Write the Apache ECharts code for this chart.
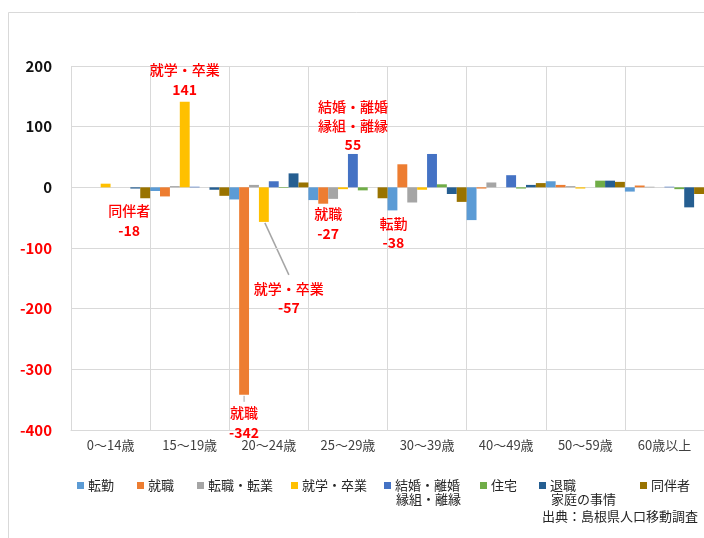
<!DOCTYPE html>
<html><head><meta charset="utf-8">
<script src="https://cdn.jsdelivr.net/npm/echarts@6/dist/echarts.min.js"></script>
<style>html,body{margin:0;padding:0;background:#fff}#c{width:704px;height:538px}</style>
</head><body><div id="c"></div>
<script>
const categories = ['0～14歳','15～19歳','20～24歳','25～29歳','30～39歳','40～49歳','50～59歳','60歳以上'];
const seriesNames = ['転勤','就職','転職・転業','就学・卒業','結婚・離婚','住宅','退職','同伴者'];
const tenkin   = [0, -6, -20, -21, -38, -54, 10, -7];
const shushoku = [0, -15, -342, -27, 38, -2, 4, 3];
const tenshoku = [0, 2, 4, -19, -25, 8, 2, 1];
const shugaku  = [6, 141, -57, -3, -4, 0, -2, 0];
const kekkon   = [0, 1, 10, 55, 55, 20, 0, 1];
const jutaku   = [0, 0, -1, -5, 5, -2, 11, -3];
const taishoku = [-2, -4, 23, 0, -11, 4, 11, -33];
const dohan    = [-18, -14, 8, -18, -24, 7, 9, -11];
const allValues = [tenkin, shushoku, tenshoku, shugaku, kekkon, jutaku, taishoku, dohan];
const colors = ['#5B9BD5','#ED7D31','#A5A5A5','#FFC000','#4472C4','#70AD47','#255E91','#997300'];
const legendSecondLines = {4:'縁組・離縁', 6:'家庭の事情'};
const sourceText = '出典：島根県人口移動調査';

// annotation labels (series index, category index, title)
const notes = [
  {s:3, c:1, title:'就学・卒業', pos:'top', dist:2, off:[0,0], lh:20},
  {s:7, c:0, title:'同伴者', pos:'bottom', dist:2, off:[-16,0], lh:20},
  {s:1, c:2, title:'就職', pos:'bottom', dist:8, off:[0,0], lh:20},
  {s:3, c:2, title:'就学・卒業', pos:'bottom', dist:57, off:[25,0], lh:19},
  {s:4, c:3, title:'結婚・離婚\n縁組・離縁', pos:'top', dist:0, off:[0,0], lh:19},
  {s:1, c:3, title:'就職', pos:'bottom', dist:0, off:[5,0], lh:20},
  {s:0, c:4, title:'転勤', pos:'bottom', dist:4, off:[1,0], lh:19}
];

const FF = '"Noto Sans CJK JP", "Noto Sans", sans-serif';
const chart = echarts.init(document.getElementById('c'));

const series = seriesNames.map((name, si) => ({
  name, type:'bar', barGap:'0%', barCategoryGap:'0%',
  itemStyle:{color:colors[si]},
  data: allValues[si].map((v, ci) => {
    const n = notes.find(o => o.s === si && o.c === ci);
    if (!n) return v;
    const t = n.title.split('\n').map(x => '{t|' + x + '}').join('\n');
    return {value:v, label:{show:true, position:n.pos, distance:n.dist, offset:n.off,
      formatter: t + '\n{n|' + v + '}',
      rich:{t:{fontSize:14, color:'#FF0000', fontWeight:500, fontFamily:FF, lineHeight:n.lh, align:'center'},
            n:{fontSize:14, color:'#FF0000', fontWeight:'bold', fontFamily:FF, lineHeight:n.lh, align:'center'}}}};
  })
}));

const legendX = [77,137,197,291,384,480,539,640];
const legends = seriesNames.map((n, i) => ({
  data:[n], left:legendX[i], top:479, padding:0, itemWidth:7, itemHeight:7, icon:'rect',
  itemGap:0, selectedMode:false, textStyle:{fontSize:13, color:'#262626', fontFamily:FF, padding:[0,0,0,-1]}
}));

const graphics = [
  {type:'rect', shape:{x:8.5, y:12.5, width:720, height:560}, style:{fill:'none', stroke:'#D9D9D9', lineWidth:1}, z:-10},
  {type:'text', right:6, top:510, style:{text:sourceText, font:'13px ' + FF, fill:'#262626'}}
];
Object.keys(legendSecondLines).forEach(k => {
  graphics.push({type:'text', left:legendX[k] + 12, top:493, style:{text:legendSecondLines[k], font:'13px ' + FF, fill:'#262626'}});
});

chart.setOption({
  animation:false,
  backgroundColor:'#fff',
  grid:{left:71, top:66, width:636, height:364},
  xAxis:{type:'category', data:categories,
    axisLine:{onZero:false, lineStyle:{color:'#D9D9D9'}}, axisTick:{show:false},
    splitLine:{show:true, interval:0, lineStyle:{color:'#D9D9D9'}},
    axisLabel:{fontSize:13, color:'#404040', fontFamily:FF, margin:9, interval:0}},
  yAxis:{type:'value', min:-400, max:200, interval:100,
    axisLine:{show:false}, axisTick:{show:false},
    splitLine:{lineStyle:{color:'#D9D9D9'}},
    axisLabel:{fontSize:15, fontWeight:'bold', fontFamily:FF, margin:19,
      color:(v) => Number(v) < 0 ? '#FF0000' : '#111'}},
  legend: legends,
  graphic: graphics,
  series
});

// leader lines computed from the axes
function barPoint(si, ci, v) {
  const p0 = chart.convertToPixel({xAxisIndex:0, yAxisIndex:0}, [0, 0]);
  const p1 = chart.convertToPixel({xAxisIndex:0, yAxisIndex:0}, [1, 0]);
  const slot = (p1[0] - p0[0]) / 8;
  const p = chart.convertToPixel({xAxisIndex:0, yAxisIndex:0}, [ci, v]);
  return [p[0] + (si - 3.5) * slot, p[1]];
}
const a = barPoint(3, 2, shugaku[2]);
const b = barPoint(1, 2, shushoku[2]);
graphics.push({type:'line', shape:{x1:a[0] + 1, y1:a[1] + 1, x2:a[0] + 25, y2:a[1] + 53}, style:{stroke:'#A5A5A5', lineWidth:1.5}});
graphics.push({type:'line', shape:{x1:b[0], y1:b[1] + 1, x2:b[0], y2:b[1] + 7}, style:{stroke:'#A5A5A5', lineWidth:1}});
chart.setOption({graphic: graphics});
</script></body></html>
